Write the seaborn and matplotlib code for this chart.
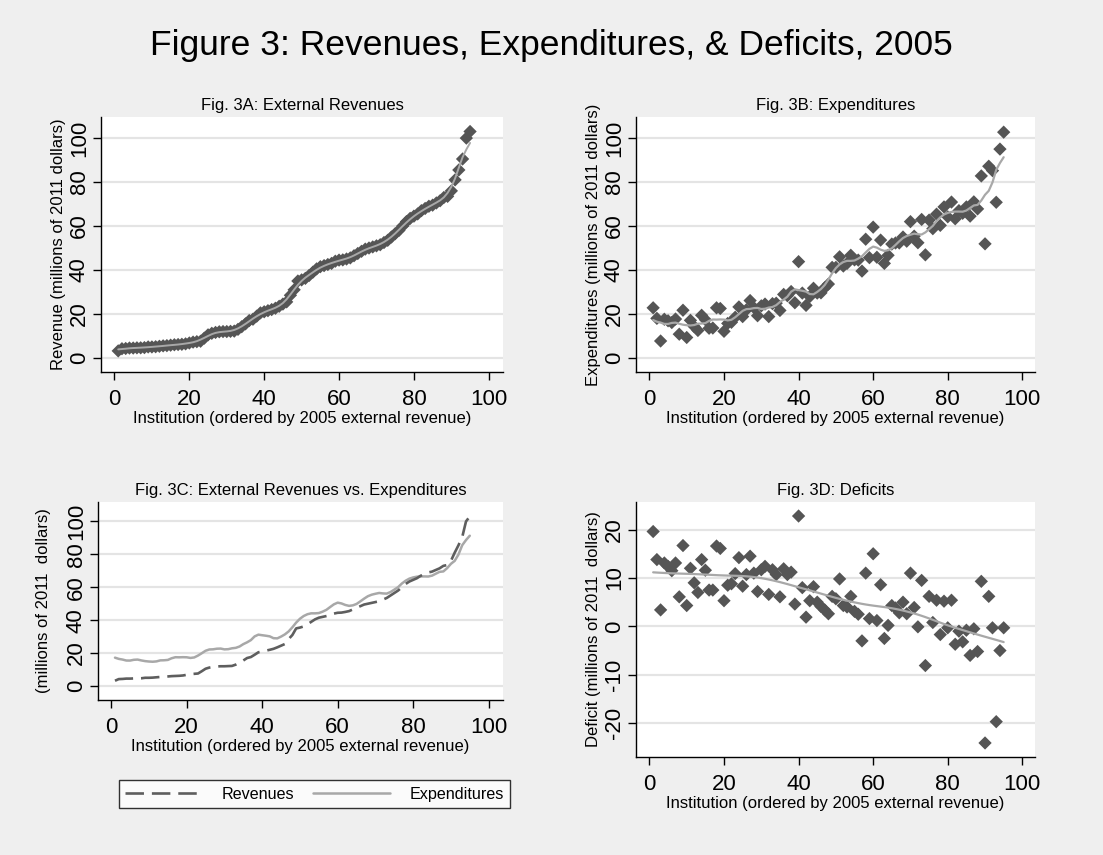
import numpy as np
import pandas as pd
import matplotlib
matplotlib.use("Agg")
import matplotlib.pyplot as plt
import seaborn as sns

# ---------------- data ----------------
institution = list(range(1, 96))

revenue = [3.2, 4.2, 4.3, 4.5, 4.5, 4.6, 4.6, 4.7, 5.0, 5.0,
           5.1, 5.3, 5.5, 5.6, 5.8, 6.0, 6.1, 6.2, 6.4, 6.8,
           7.2, 7.4, 7.6, 9.0, 10.5, 11.2, 11.6, 11.9, 12.0, 12.0,
           12.1, 12.2, 13.0, 14.2, 15.5, 17.0, 17.6, 19.0, 20.5, 21.0,
           21.5, 22.0, 22.6, 23.5, 24.5, 25.5, 28.5, 31.0, 35.0, 35.5,
           36.2, 37.5, 39.0, 40.5, 41.5, 42.0, 42.5, 43.0, 44.0, 44.5,
           44.6, 45.0, 45.5, 46.5, 47.5, 48.5, 49.5, 50.0, 50.5, 51.0,
           51.5, 52.5, 53.5, 55.0, 56.5, 58.0, 60.0, 62.0, 63.5, 64.5,
           65.5, 67.0, 68.0, 69.0, 69.5, 70.5, 71.5, 73.0, 73.5, 76.0,
           81.0, 85.5, 90.5, 100.0, 103.0]

expenditures = [22.8, 18.0, 7.7, 17.6, 16.9, 16.1, 17.7, 10.8, 21.7, 9.3,
                17.1, 14.3, 12.5, 19.4, 17.4, 13.5, 13.6, 22.8, 22.5, 12.1,
                15.7, 16.2, 18.5, 23.2, 18.8, 21.9, 26.1, 22.9, 19.2, 23.7,
                24.5, 18.8, 24.7, 24.9, 21.6, 28.9, 28.3, 30.2, 25.1, 43.8,
                29.5, 23.9, 27.9, 31.7, 29.5, 29.6, 31.9, 33.6, 41.2, 41.2,
                46.0, 41.8, 43.0, 46.7, 44.6, 44.5, 39.5, 54.0, 45.6, 59.5,
                45.8, 53.6, 43.0, 46.7, 51.8, 52.3, 52.3, 55.0, 53.1, 62.0,
                55.4, 52.4, 63.0, 46.9, 62.7, 58.8, 65.4, 60.3, 68.7, 64.2,
                70.9, 63.3, 67.0, 65.8, 68.7, 64.5, 71.0, 67.8, 82.8, 51.9,
                87.2, 85.2, 70.8, 95.0, 102.7]

deficits = [19.6, 13.8, 3.4, 13.1, 12.4, 11.5, 13.1, 6.1, 16.7, 4.3,
            12.0, 9.0, 7.0, 13.8, 11.6, 7.5, 7.5, 16.6, 16.1, 5.3,
            8.5, 8.8, 10.9, 14.2, 8.3, 10.7, 14.5, 11.0, 7.2, 11.7,
            12.4, 6.6, 11.7, 10.7, 6.1, 11.9, 10.7, 11.2, 4.6, 22.8,
            8.0, 1.9, 5.3, 8.2, 5.0, 4.1, 3.4, 2.6, 6.2, 5.7,
            9.8, 4.3, 4.0, 6.2, 3.1, 2.5, -3.0, 11.0, 1.6, 15.0,
            1.2, 8.6, -2.5, 0.2, 4.3, 3.8, 2.8, 5.0, 2.6, 11.0,
            3.9, -0.1, 9.5, -8.1, 6.2, 0.8, 5.4, -1.7, 5.2, -0.3,
            5.4, -3.7, -1.0, -3.2, -0.8, -6.0, -0.5, -5.2, 9.3, -24.1,
            6.2, -0.3, -19.7, -5.0, -0.3]

y_ticks_money = [0, 20, 40, 60, 80, 100]
y_ticks_deficit = [-20, -10, 0, 10, 20]
x_ticks = [0, 20, 40, 60, 80, 100]

main_title = "Figure 3: Revenues, Expenditures, & Deficits, 2005"
panel_titles = ["Fig. 3A: External Revenues", "Fig. 3B: Expenditures",
                "Fig. 3C: External Revenues vs. Expenditures", "Fig. 3D: Deficits"]
x_label = "Institution (ordered by 2005 external revenue)"
y_labels = ["Revenue (millions of 2011 dollars)",
            "Expenditures (millions of 2011 dollars)",
            "(millions of 2011  dollars)",
            "Deficit (millions of 2011  dollars)"]


# Stata-style lowess with the "mean" option (tricube-weighted running mean)
def lowess_mean(x, y, bw):
    x = np.asarray(x, float)
    y = np.asarray(y, float)
    n = len(x)
    k = int(np.floor((n * bw - 0.5) / 2))
    out = np.empty(n)
    for i in range(n):
        lo = max(0, i - k)
        hi = min(n - 1, i + k)
        xs = x[lo:hi + 1]
        ys = y[lo:hi + 1]
        delta = 1.0001 * max(x[hi] - x[i], x[i] - x[lo])
        w = (1 - (np.abs(xs - x[i]) / delta) ** 3) ** 3
        out[i] = (w * ys).sum() / w.sum()
    return out


df = pd.DataFrame({"inst": institution, "rev": revenue,
                   "exp": expenditures, "def": deficits})
df["rev_s"] = lowess_mean(df["inst"], df["rev"], 0.1)
df["exp_s"] = lowess_mean(df["inst"], df["exp"], 0.1)
df["def_s"] = lowess_mean(df["inst"], df["def"], 0.5)

# ---------------- style ----------------
sns.set_style("white")
plt.rcParams["font.family"] = ["Liberation Sans", "DejaVu Sans"]
plt.rcParams["axes.unicode_minus"] = False
for key in ["text.color", "axes.labelcolor", "xtick.color", "ytick.color"]:
    plt.rcParams[key] = "black"

BG = "#EFEFEF"
MARK = "#555555"
LIGHT = "#A8A8A8"
GRID = "#E4E4E4"

W, H = 1103, 855
fig = plt.figure(figsize=(W / 100, H / 100), dpi=100, facecolor=BG)


def add_axes(l, r, t, b):
    return fig.add_axes([l / W, 1 - b / H, (r - l) / W, (b - t) / H])


axA = add_axes(101, 503, 117, 372)
axB = add_axes(636, 1035, 117, 372)
axC = add_axes(98, 503, 502, 700)
axD = add_axes(636, 1035, 502, 757)

TICK_FS = 16
LAB_FS = 12
MS = 46


def style(ax, title, ylabel, yticks, xlim, ylim, ylabelpad=2):
    ax.set_facecolor("white")
    ax.set_xlim(*xlim)
    ax.set_ylim(*ylim)
    ax.set_xticks(x_ticks)
    ax.set_yticks(yticks)
    ax.set_yticklabels([str(v) for v in yticks])
    ax.yaxis.grid(True, color=GRID, lw=1.6)
    ax.xaxis.grid(False)
    ax.set_axisbelow(True)
    for s in ["top", "right"]:
        ax.spines[s].set_visible(False)
    for s in ["left", "bottom"]:
        ax.spines[s].set_visible(True)
        ax.spines[s].set_color("black")
        ax.spines[s].set_linewidth(1.0)
    ax.tick_params(axis="both", direction="out", length=6, width=1,
                   color="black", labelcolor="black", labelsize=TICK_FS,
                   left=True, bottom=True)
    ax.tick_params(axis="x", pad=6)
    ax.tick_params(axis="y", pad=2, labelrotation=90)
    for lab in ax.get_yticklabels():
        lab.set_verticalalignment("center")
    ax.set_title(title, fontsize=LAB_FS, pad=5, color="black")
    ax.set_xlabel(x_label, fontsize=LAB_FS, labelpad=1)
    ax.set_ylabel(ylabel, fontsize=LAB_FS, labelpad=ylabelpad)


# Panel A
sns.scatterplot(data=df, x="inst", y="rev", marker="D", s=MS, color=MARK,
                edgecolor="none", linewidth=0, ax=axA, zorder=2, legend=False)
sns.lineplot(data=df, x="inst", y="rev_s", color=LIGHT, lw=1.4, ax=axA,
             zorder=3, legend=False)
style(axA, panel_titles[0], y_labels[0], y_ticks_money, (-3.6, 103.8), (-6.4, 109.6))

# Panel B
sns.scatterplot(data=df, x="inst", y="exp", marker="D", s=MS, color=MARK,
                edgecolor="none", linewidth=0, ax=axB, zorder=2, legend=False)
sns.lineplot(data=df, x="inst", y="exp_s", color=LIGHT, lw=1.6, ax=axB,
             zorder=3, legend=False)
style(axB, panel_titles[1], y_labels[1], y_ticks_money, (-3.6, 103.4), (-6.4, 109.6))

# Panel C
sns.lineplot(data=df, x="inst", y="rev", color="#5E5E5E", lw=1.9, ax=axC,
             label="Revenues", zorder=3)
axC.lines[-1].set_linestyle((0, (7, 3)))
sns.lineplot(data=df, x="inst", y="exp_s", color=LIGHT, lw=1.8, ax=axC,
             label="Expenditures", zorder=2)
handles, labels = axC.get_legend_handles_labels()
handles[0].set_linestyle((0, (7, 3)))
axC.get_legend().remove()
style(axC, panel_titles[2], y_labels[2], y_ticks_money, (-3.5, 103.8), (-8.5, 111.8),
      ylabelpad=11)

# Panel D
sns.scatterplot(data=df, x="inst", y="def", marker="D", s=MS, color=MARK,
                edgecolor="none", linewidth=0, ax=axD, zorder=2, legend=False)
sns.lineplot(data=df, x="inst", y="def_s", color=LIGHT, lw=1.6, ax=axD,
             zorder=3, legend=False)
style(axD, panel_titles[3], y_labels[3], y_ticks_deficit, (-3.6, 103.4), (-27.0, 25.7))

# Legend
leg = fig.legend(handles, labels, loc="lower left",
                 bbox_to_anchor=(119 / W, 1 - 808 / H, (510 - 119) / W, 40 / H),
                 mode="expand", ncol=2, fontsize=11.6, handlelength=4.8,
                 frameon=True, fancybox=False, borderaxespad=0,
                 handletextpad=1.2, columnspacing=1.5)
leg.get_frame().set_edgecolor("black")
leg.get_frame().set_linewidth(1.0)
leg.get_frame().set_facecolor("white")

fig.text(0.5, 1 - 46 / H, main_title, ha="center", va="center", fontsize=25.5)

fig.savefig("out.png", dpi=100, facecolor=BG)
